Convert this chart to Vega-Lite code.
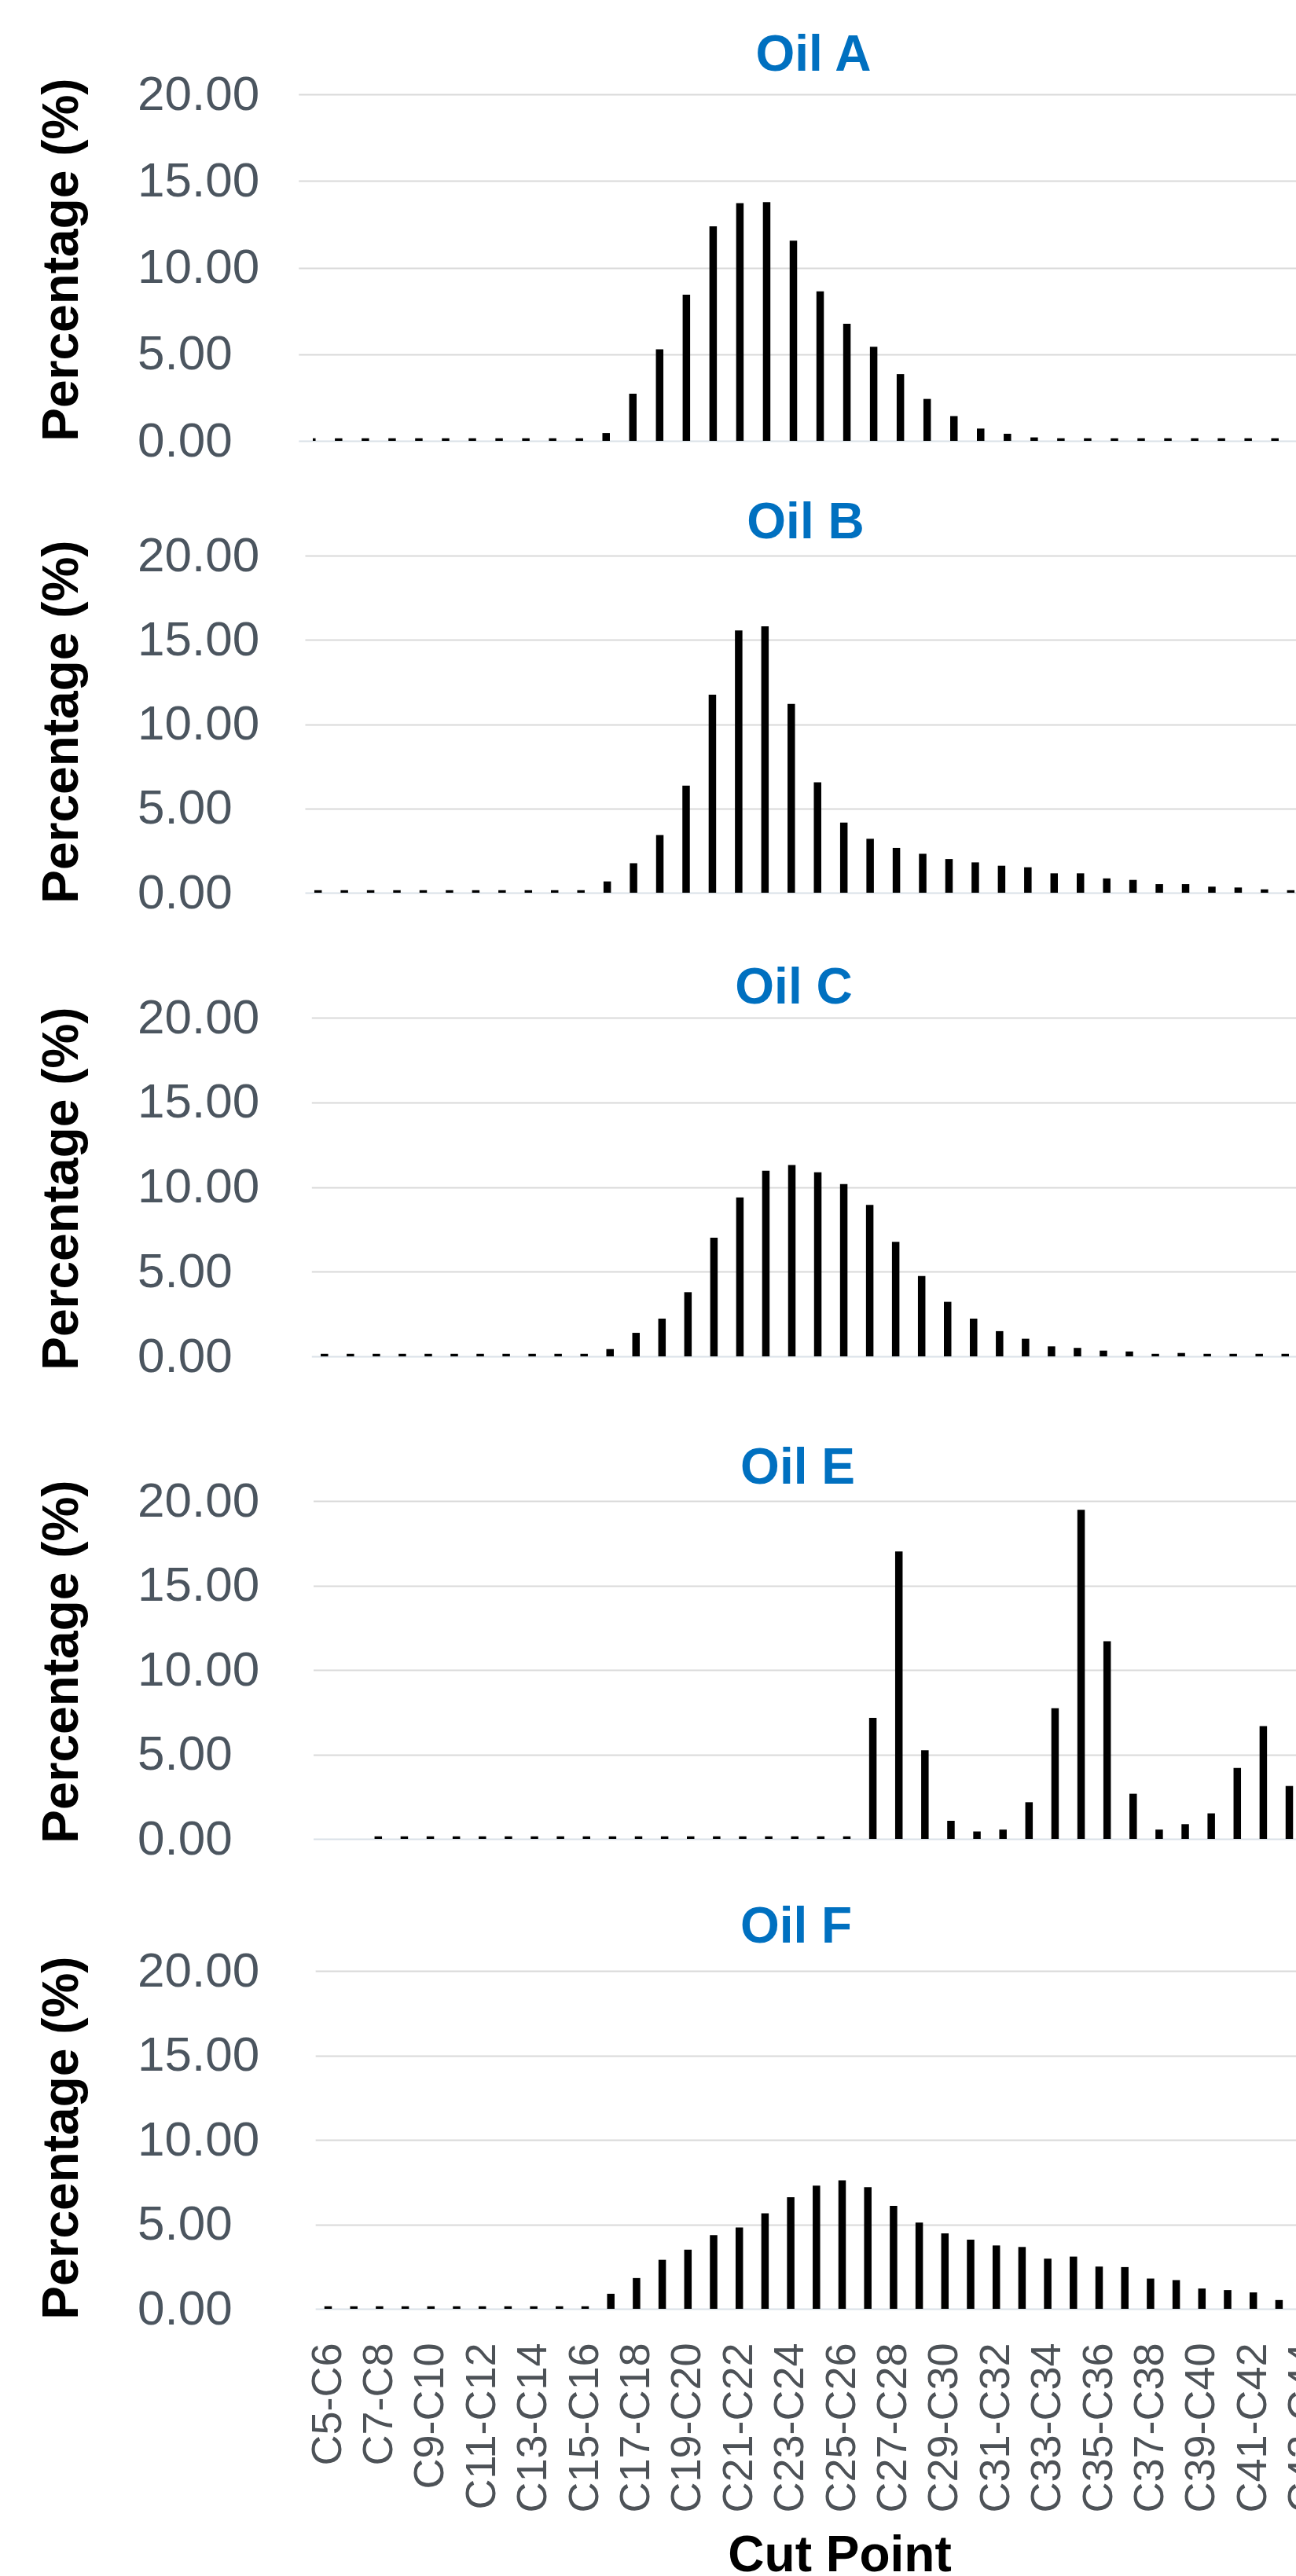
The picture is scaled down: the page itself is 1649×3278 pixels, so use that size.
{
"$schema": "https://vega.github.io/schema/vega-lite/v6.json",
"background": "white",
"padding": {"left": 46, "top": 39, "right": 0, "bottom": 0},
"autosize": {"type": "pad"},
"data": {"values": [
{"oil":"Oil A","cut":"C5-C6","pct":0.15},{"oil":"Oil A","cut":"C6-C7","pct":0.15},{"oil":"Oil A","cut":"C7-C8","pct":0.15},{"oil":"Oil A","cut":"C8-C9","pct":0.15},{"oil":"Oil A","cut":"C9-C10","pct":0.15},{"oil":"Oil A","cut":"C10-C11","pct":0.15},{"oil":"Oil A","cut":"C11-C12","pct":0.15},{"oil":"Oil A","cut":"C12-C13","pct":0.15},{"oil":"Oil A","cut":"C13-C14","pct":0.15},{"oil":"Oil A","cut":"C14-C15","pct":0.15},{"oil":"Oil A","cut":"C15-C16","pct":0.15},{"oil":"Oil A","cut":"C16-C17","pct":0.45},{"oil":"Oil A","cut":"C17-C18","pct":2.72},{"oil":"Oil A","cut":"C18-C19","pct":5.28},{"oil":"Oil A","cut":"C19-C20","pct":8.44},{"oil":"Oil A","cut":"C20-C21","pct":12.38},{"oil":"Oil A","cut":"C21-C22","pct":13.72},{"oil":"Oil A","cut":"C22-C23","pct":13.77},{"oil":"Oil A","cut":"C23-C24","pct":11.55},{"oil":"Oil A","cut":"C24-C25","pct":8.63},{"oil":"Oil A","cut":"C25-C26","pct":6.76},{"oil":"Oil A","cut":"C26-C27","pct":5.43},{"oil":"Oil A","cut":"C27-C28","pct":3.85},{"oil":"Oil A","cut":"C28-C29","pct":2.42},{"oil":"Oil A","cut":"C29-C30","pct":1.43},{"oil":"Oil A","cut":"C30-C31","pct":0.71},{"oil":"Oil A","cut":"C31-C32","pct":0.41},{"oil":"Oil A","cut":"C32-C33","pct":0.2},{"oil":"Oil A","cut":"C33-C34","pct":0.15},{"oil":"Oil A","cut":"C34-C35","pct":0.15},{"oil":"Oil A","cut":"C35-C36","pct":0.15},{"oil":"Oil A","cut":"C36-C37","pct":0.15},{"oil":"Oil A","cut":"C37-C38","pct":0.15},{"oil":"Oil A","cut":"C38-C39","pct":0.15},{"oil":"Oil A","cut":"C39-C40","pct":0.15},{"oil":"Oil A","cut":"C40-C41","pct":0.15},{"oil":"Oil A","cut":"C41-C42","pct":0.15},{"oil":"Oil A","cut":"C42-C43","pct":0.15},
{"oil":"Oil B","cut":"C5-C6","pct":0.15},{"oil":"Oil B","cut":"C6-C7","pct":0.15},{"oil":"Oil B","cut":"C7-C8","pct":0.15},{"oil":"Oil B","cut":"C8-C9","pct":0.15},{"oil":"Oil B","cut":"C9-C10","pct":0.15},{"oil":"Oil B","cut":"C10-C11","pct":0.15},{"oil":"Oil B","cut":"C11-C12","pct":0.15},{"oil":"Oil B","cut":"C12-C13","pct":0.15},{"oil":"Oil B","cut":"C13-C14","pct":0.15},{"oil":"Oil B","cut":"C14-C15","pct":0.15},{"oil":"Oil B","cut":"C15-C16","pct":0.15},{"oil":"Oil B","cut":"C16-C17","pct":0.67},{"oil":"Oil B","cut":"C17-C18","pct":1.75},{"oil":"Oil B","cut":"C18-C19","pct":3.42},{"oil":"Oil B","cut":"C19-C20","pct":6.35},{"oil":"Oil B","cut":"C20-C21","pct":11.75},{"oil":"Oil B","cut":"C21-C22","pct":15.56},{"oil":"Oil B","cut":"C22-C23","pct":15.81},{"oil":"Oil B","cut":"C23-C24","pct":11.2},{"oil":"Oil B","cut":"C24-C25","pct":6.55},{"oil":"Oil B","cut":"C25-C26","pct":4.16},{"oil":"Oil B","cut":"C26-C27","pct":3.2},{"oil":"Oil B","cut":"C27-C28","pct":2.66},{"oil":"Oil B","cut":"C28-C29","pct":2.31},{"oil":"Oil B","cut":"C29-C30","pct":2.0},{"oil":"Oil B","cut":"C30-C31","pct":1.8},{"oil":"Oil B","cut":"C31-C32","pct":1.6},{"oil":"Oil B","cut":"C32-C33","pct":1.51},{"oil":"Oil B","cut":"C33-C34","pct":1.15},{"oil":"Oil B","cut":"C34-C35","pct":1.15},{"oil":"Oil B","cut":"C35-C36","pct":0.85},{"oil":"Oil B","cut":"C36-C37","pct":0.76},{"oil":"Oil B","cut":"C37-C38","pct":0.51},{"oil":"Oil B","cut":"C38-C39","pct":0.51},{"oil":"Oil B","cut":"C39-C40","pct":0.36},{"oil":"Oil B","cut":"C40-C41","pct":0.31},{"oil":"Oil B","cut":"C41-C42","pct":0.2},{"oil":"Oil B","cut":"C42-C43","pct":0.15},
{"oil":"Oil C","cut":"C5-C6","pct":0.15},{"oil":"Oil C","cut":"C6-C7","pct":0.15},{"oil":"Oil C","cut":"C7-C8","pct":0.15},{"oil":"Oil C","cut":"C8-C9","pct":0.15},{"oil":"Oil C","cut":"C9-C10","pct":0.15},{"oil":"Oil C","cut":"C10-C11","pct":0.15},{"oil":"Oil C","cut":"C11-C12","pct":0.15},{"oil":"Oil C","cut":"C12-C13","pct":0.15},{"oil":"Oil C","cut":"C13-C14","pct":0.15},{"oil":"Oil C","cut":"C14-C15","pct":0.15},{"oil":"Oil C","cut":"C15-C16","pct":0.15},{"oil":"Oil C","cut":"C16-C17","pct":0.43},{"oil":"Oil C","cut":"C17-C18","pct":1.39},{"oil":"Oil C","cut":"C18-C19","pct":2.23},{"oil":"Oil C","cut":"C19-C20","pct":3.79},{"oil":"Oil C","cut":"C20-C21","pct":7.01},{"oil":"Oil C","cut":"C21-C22","pct":9.38},{"oil":"Oil C","cut":"C22-C23","pct":10.96},{"oil":"Oil C","cut":"C23-C24","pct":11.3},{"oil":"Oil C","cut":"C24-C25","pct":10.87},{"oil":"Oil C","cut":"C25-C26","pct":10.17},{"oil":"Oil C","cut":"C26-C27","pct":8.95},{"oil":"Oil C","cut":"C27-C28","pct":6.76},{"oil":"Oil C","cut":"C28-C29","pct":4.75},{"oil":"Oil C","cut":"C29-C30","pct":3.22},{"oil":"Oil C","cut":"C30-C31","pct":2.23},{"oil":"Oil C","cut":"C31-C32","pct":1.49},{"oil":"Oil C","cut":"C32-C33","pct":1.04},{"oil":"Oil C","cut":"C33-C34","pct":0.59},{"oil":"Oil C","cut":"C34-C35","pct":0.5},{"oil":"Oil C","cut":"C35-C36","pct":0.34},{"oil":"Oil C","cut":"C36-C37","pct":0.29},{"oil":"Oil C","cut":"C37-C38","pct":0.15},{"oil":"Oil C","cut":"C38-C39","pct":0.2},{"oil":"Oil C","cut":"C39-C40","pct":0.15},{"oil":"Oil C","cut":"C40-C41","pct":0.15},{"oil":"Oil C","cut":"C41-C42","pct":0.15},{"oil":"Oil C","cut":"C42-C43","pct":0.15},
{"oil":"Oil E","cut":"C7-C8","pct":0.15},{"oil":"Oil E","cut":"C8-C9","pct":0.15},{"oil":"Oil E","cut":"C9-C10","pct":0.15},{"oil":"Oil E","cut":"C10-C11","pct":0.15},{"oil":"Oil E","cut":"C11-C12","pct":0.15},{"oil":"Oil E","cut":"C12-C13","pct":0.15},{"oil":"Oil E","cut":"C13-C14","pct":0.15},{"oil":"Oil E","cut":"C14-C15","pct":0.15},{"oil":"Oil E","cut":"C15-C16","pct":0.15},{"oil":"Oil E","cut":"C16-C17","pct":0.15},{"oil":"Oil E","cut":"C17-C18","pct":0.15},{"oil":"Oil E","cut":"C18-C19","pct":0.15},{"oil":"Oil E","cut":"C19-C20","pct":0.15},{"oil":"Oil E","cut":"C20-C21","pct":0.15},{"oil":"Oil E","cut":"C21-C22","pct":0.15},{"oil":"Oil E","cut":"C22-C23","pct":0.15},{"oil":"Oil E","cut":"C23-C24","pct":0.15},{"oil":"Oil E","cut":"C24-C25","pct":0.15},{"oil":"Oil E","cut":"C25-C26","pct":0.15},{"oil":"Oil E","cut":"C26-C27","pct":7.16},{"oil":"Oil E","cut":"C27-C28","pct":17.01},{"oil":"Oil E","cut":"C28-C29","pct":5.24},{"oil":"Oil E","cut":"C29-C30","pct":1.07},{"oil":"Oil E","cut":"C30-C31","pct":0.44},{"oil":"Oil E","cut":"C31-C32","pct":0.55},{"oil":"Oil E","cut":"C32-C33","pct":2.17},{"oil":"Oil E","cut":"C33-C34","pct":7.73},{"oil":"Oil E","cut":"C34-C35","pct":19.48},{"oil":"Oil E","cut":"C35-C36","pct":11.7},{"oil":"Oil E","cut":"C36-C37","pct":2.67},{"oil":"Oil E","cut":"C37-C38","pct":0.55},{"oil":"Oil E","cut":"C38-C39","pct":0.87},{"oil":"Oil E","cut":"C39-C40","pct":1.51},{"oil":"Oil E","cut":"C40-C41","pct":4.2},{"oil":"Oil E","cut":"C41-C42","pct":6.67},{"oil":"Oil E","cut":"C42-C43","pct":3.13},
{"oil":"Oil F","cut":"C5-C6","pct":0.15},{"oil":"Oil F","cut":"C6-C7","pct":0.15},{"oil":"Oil F","cut":"C7-C8","pct":0.15},{"oil":"Oil F","cut":"C8-C9","pct":0.15},{"oil":"Oil F","cut":"C9-C10","pct":0.15},{"oil":"Oil F","cut":"C10-C11","pct":0.15},{"oil":"Oil F","cut":"C11-C12","pct":0.15},{"oil":"Oil F","cut":"C12-C13","pct":0.15},{"oil":"Oil F","cut":"C13-C14","pct":0.15},{"oil":"Oil F","cut":"C14-C15","pct":0.15},{"oil":"Oil F","cut":"C15-C16","pct":0.15},{"oil":"Oil F","cut":"C16-C17","pct":0.89},{"oil":"Oil F","cut":"C17-C18","pct":1.82},{"oil":"Oil F","cut":"C18-C19","pct":2.9},{"oil":"Oil F","cut":"C19-C20","pct":3.5},{"oil":"Oil F","cut":"C20-C21","pct":4.36},{"oil":"Oil F","cut":"C21-C22","pct":4.81},{"oil":"Oil F","cut":"C22-C23","pct":5.65},{"oil":"Oil F","cut":"C23-C24","pct":6.6},{"oil":"Oil F","cut":"C24-C25","pct":7.29},{"oil":"Oil F","cut":"C25-C26","pct":7.6},{"oil":"Oil F","cut":"C26-C27","pct":7.2},{"oil":"Oil F","cut":"C27-C28","pct":6.09},{"oil":"Oil F","cut":"C28-C29","pct":5.11},{"oil":"Oil F","cut":"C29-C30","pct":4.47},{"oil":"Oil F","cut":"C30-C31","pct":4.09},{"oil":"Oil F","cut":"C31-C32","pct":3.75},{"oil":"Oil F","cut":"C32-C33","pct":3.66},{"oil":"Oil F","cut":"C33-C34","pct":2.97},{"oil":"Oil F","cut":"C34-C35","pct":3.09},{"oil":"Oil F","cut":"C35-C36","pct":2.5},{"oil":"Oil F","cut":"C36-C37","pct":2.47},{"oil":"Oil F","cut":"C37-C38","pct":1.79},{"oil":"Oil F","cut":"C38-C39","pct":1.7},{"oil":"Oil F","cut":"C39-C40","pct":1.2},{"oil":"Oil F","cut":"C40-C41","pct":1.11},{"oil":"Oil F","cut":"C41-C42","pct":0.97},{"oil":"Oil F","cut":"C42-C43","pct":0.52}
]},
"spacing": 42,
"vconcat": [
{
 "title": {"text": "Oil A", "offset": -14, "dx": 11},
 "width": 1252, "height": 441,
 "transform": [{"filter": "datum.oil === 'Oil A'"}],
 "mark": {"type": "bar", "color": "#000000", "width": 9.5, "clip": true},
 "encoding": {
  "x": {"field": "cut", "type": "ordinal", "axis": null,
   "scale": {"domain": ["C5-C6","C6-C7","C7-C8","C8-C9","C9-C10","C10-C11","C11-C12","C12-C13","C13-C14","C14-C15","C15-C16","C16-C17","C17-C18","C18-C19","C19-C20","C20-C21","C21-C22","C22-C23","C23-C24","C24-C25","C25-C26","C26-C27","C27-C28","C28-C29","C29-C30","C30-C31","C31-C32","C32-C33","C33-C34","C34-C35","C35-C36","C36-C37","C37-C38","C38-C39","C39-C40","C40-C41","C41-C42","C42-C43","C43-C44"], "range": [-18.22, 1309.3], "paddingInner": 0, "paddingOuter": 0}},
  "y": {"field": "pct", "type": "quantitative", "scale": {"domain": [0, 20], "nice": false},
   "axis": {"title": "Percentage (%)", "values": [0, 5, 10, 15, 20], "format": ".2f", "titleY": 210,
    "gridColor": {"condition": {"test": "datum.value === 0", "value": "#dae1e8"}, "value": "#d9d9d9"}}}
 }
},
{
 "spacing": 59,
 "vconcat": [
 {
  "title": {"text": "Oil B", "offset": -22, "dx": 1},
  "width": 1252, "height": 429,
  "transform": [{"filter": "datum.oil === 'Oil B'"}],
  "mark": {"type": "bar", "color": "#000000", "width": 9.5, "clip": true},
  "encoding": {
   "x": {"field": "cut", "type": "ordinal", "axis": null,
    "scale": {"domain": ["C5-C6","C6-C7","C7-C8","C8-C9","C9-C10","C10-C11","C11-C12","C12-C13","C13-C14","C14-C15","C15-C16","C16-C17","C17-C18","C18-C19","C19-C20","C20-C21","C21-C22","C22-C23","C23-C24","C24-C25","C25-C26","C26-C27","C27-C28","C28-C29","C29-C30","C30-C31","C31-C32","C32-C33","C33-C34","C34-C35","C35-C36","C36-C37","C37-C38","C38-C39","C39-C40","C40-C41","C41-C42","C42-C43","C43-C44"], "range": [-10.03, 1294.5], "paddingInner": 0, "paddingOuter": 0}},
   "y": {"field": "pct", "type": "quantitative", "scale": {"domain": [0, 20], "nice": false},
    "axis": {"title": "Percentage (%)", "values": [0, 5, 10, 15, 20], "format": ".2f", "titleY": 211,
     "gridColor": {"condition": {"test": "datum.value === 0", "value": "#dae1e8"}, "value": "#d9d9d9"}}}
  }
 },
 {
  "spacing": 80,
  "vconcat": [
  {
   "title": {"text": "Oil C", "offset": -26, "dx": -14},
   "width": 1252, "height": 431,
   "transform": [{"filter": "datum.oil === 'Oil C'"}],
   "mark": {"type": "bar", "color": "#000000", "width": 9.5, "clip": true},
   "encoding": {
    "x": {"field": "cut", "type": "ordinal", "axis": null,
     "scale": {"domain": ["C5-C6","C6-C7","C7-C8","C8-C9","C9-C10","C10-C11","C11-C12","C12-C13","C13-C14","C14-C15","C15-C16","C16-C17","C17-C18","C18-C19","C19-C20","C20-C21","C21-C22","C22-C23","C23-C24","C24-C25","C25-C26","C26-C27","C27-C28","C28-C29","C29-C30","C30-C31","C31-C32","C32-C33","C33-C34","C34-C35","C35-C36","C36-C37","C37-C38","C38-C39","C39-C40","C40-C41","C41-C42","C42-C43","C43-C44"], "range": [-1.72, 1286.8], "paddingInner": 0, "paddingOuter": 0}},
    "y": {"field": "pct", "type": "quantitative", "scale": {"domain": [0, 20], "nice": false},
     "axis": {"title": "Percentage (%)", "values": [0, 5, 10, 15, 20], "format": ".2f", "titleY": 217,
      "gridColor": {"condition": {"test": "datum.value === 0", "value": "#dae1e8"}, "value": "#d9d9d9"}}}
   }
  },
  {
   "spacing": 50,
   "vconcat": [
   {
    "title": {"text": "Oil E", "offset": -22, "dx": -9},
    "width": 1252, "height": 430,
    "transform": [{"filter": "datum.oil === 'Oil E'"}],
    "mark": {"type": "bar", "color": "#000000", "width": 9.5, "clip": true},
    "encoding": {
     "x": {"field": "cut", "type": "ordinal", "axis": null,
      "scale": {"domain": ["C5-C6","C6-C7","C7-C8","C8-C9","C9-C10","C10-C11","C11-C12","C12-C13","C13-C14","C14-C15","C15-C16","C16-C17","C17-C18","C18-C19","C19-C20","C20-C21","C21-C22","C22-C23","C23-C24","C24-C25","C25-C26","C26-C27","C27-C28","C28-C29","C29-C30","C30-C31","C31-C32","C32-C33","C33-C34","C34-C35","C35-C36","C36-C37","C37-C38","C38-C39","C39-C40","C40-C41","C41-C42","C42-C43","C43-C44"], "range": [0.5, 1292.2], "paddingInner": 0, "paddingOuter": 0}},
     "y": {"field": "pct", "type": "quantitative", "scale": {"domain": [0, 20], "nice": false},
      "axis": {"title": "Percentage (%)", "values": [0, 5, 10, 15, 20], "format": ".2f", "titleY": 204,
       "gridColor": {"condition": {"test": "datum.value === 0", "value": "#dae1e8"}, "value": "#d9d9d9"}}}
    }
   },
   {
    "title": {"text": "Oil F", "offset": -8, "dx": -11},
    "width": 1252, "height": 430,
    "transform": [{"filter": "datum.oil === 'Oil F'"}],
    "mark": {"type": "bar", "color": "#000000", "width": 9.5, "clip": true},
    "encoding": {
     "x": {"field": "cut", "type": "ordinal",
      "scale": {"domain": ["C5-C6","C6-C7","C7-C8","C8-C9","C9-C10","C10-C11","C11-C12","C12-C13","C13-C14","C14-C15","C15-C16","C16-C17","C17-C18","C18-C19","C19-C20","C20-C21","C21-C22","C22-C23","C23-C24","C24-C25","C25-C26","C26-C27","C27-C28","C28-C29","C29-C30","C30-C31","C31-C32","C32-C33","C33-C34","C34-C35","C35-C36","C36-C37","C37-C38","C38-C39","C39-C40","C40-C41","C41-C42","C42-C43","C43-C44"], "range": [3.15, 1278.45], "paddingInner": 0, "paddingOuter": 0},
      "axis": {"values": ["C5-C6","C7-C8","C9-C10","C11-C12","C13-C14","C15-C16","C17-C18","C19-C20","C21-C22","C23-C24","C25-C26","C27-C28","C29-C30","C31-C32","C33-C34","C35-C36","C37-C38","C39-C40","C41-C42","C43-C44"],
       "labelAngle": 270, "labelAlign": "right", "labelBaseline": "middle", "labelFontSize": 54, "labelColor": "#4d5257", "labelPadding": 43, "labelLimit": 0,
       "ticks": false, "tickSize": 0, "domain": false, "grid": false, "labelOverlap": false, "labelFlush": false, "labelBound": false,
       "title": "Cut Point", "titleFontSize": 64, "titleFontWeight": "bold", "titleColor": "#000000", "titleX": 670, "titleY": 333, "titleBaseline": "alphabetic", "titleAlign": "center"}},
     "y": {"field": "pct", "type": "quantitative", "scale": {"domain": [0, 20], "nice": false},
      "axis": {"title": "Percentage (%)", "values": [0, 5, 10, 15, 20], "format": ".2f", "titleY": 212,
       "gridColor": {"condition": {"test": "datum.value === 0", "value": "#dae1e8"}, "value": "#d9d9d9"}}}
    }
   }
   ]
  }
  ]
 }
 ]
}
],
"config": {
 "font": "Liberation Sans",
 "view": {"stroke": null},
 "title": {"fontSize": 64, "fontWeight": "bold", "color": "#0070c0", "font": "Liberation Sans", "baseline": "alphabetic", "anchor": "middle", "frame": "group"},
 "axisY": {"domain": false, "ticks": false, "tickSize": 0, "labelAlign": "left", "labelBaseline": "middle", "labelPadding": 223.5, "labelFontSize": 62, "labelColor": "#4b555f", "labelOverlap": false, "labelFlush": false, "labelBound": false, "grid": true, "gridWidth": 2, "titleFontSize": 64, "titleFontWeight": "bold", "titleColor": "#000000", "titleX": -300, "titleBaseline": "alphabetic", "titleAngle": 270, "titleAlign": "center"}
}
}
